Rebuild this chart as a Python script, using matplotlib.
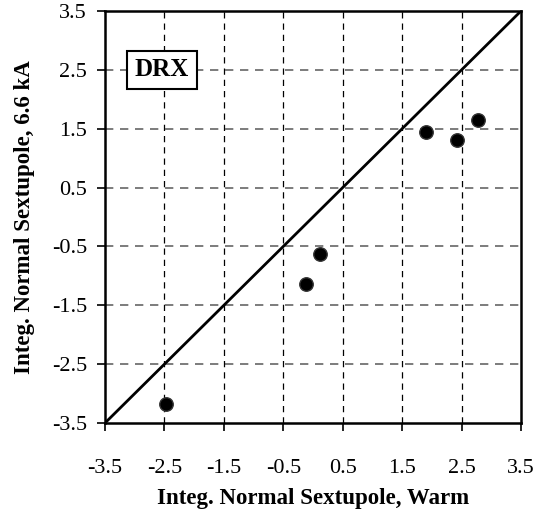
import matplotlib
matplotlib.use("Agg")
import matplotlib.pyplot as plt

warm = [-2.48, -0.12, 0.12, 1.90, 2.42, 2.77]
cold = [-3.17, -1.13, -0.63, 1.44, 1.30, 1.64]
ticks = [-3.5, -2.5, -1.5, -0.5, 0.5, 1.5, 2.5, 3.5]
tick_labels = ["-3.5", "-2.5", "-1.5", "-0.5", "0.5", "1.5", "2.5", "3.5"]
diag = [-3.5, 3.5]

plt.rcParams['font.family'] = ['Liberation Serif', 'DejaVu Serif']

fig = plt.figure(figsize=(5.38, 5.17), dpi=100)
ax = fig.add_axes([105/538, 1 - 423/517, 416/538, 412/517])

ax.set_xlim(-3.5, 3.5)
ax.set_ylim(-3.5, 3.5)
ax.set_xticks(ticks)
ax.set_yticks(ticks)
ax.set_xticklabels(tick_labels, fontsize=16)
ax.set_yticklabels(tick_labels, fontsize=16)
ax.tick_params(direction='out', length=6, width=1.2)
ax.tick_params(axis='x', pad=20)
ax.tick_params(axis='y', pad=7)

for v in ticks[1:-1]:
    ax.axvline(v, color='black', linestyle=(0, (5, 4)), linewidth=0.9, zorder=1)
    ax.axhline(v, color='#666666', linestyle=(0, (5, 4)), linewidth=1.2, zorder=1)

ax.plot(diag, diag, color='black', linewidth=2, zorder=2)
ax.plot(warm, cold, 'o', color='black', markersize=9.7, markeredgecolor='#333333', zorder=3, clip_on=False)

for s in ax.spines.values():
    s.set_linewidth(1.8)

ax.set_xlabel("Integ. Normal Sextupole, Warm", fontsize=16.5, fontweight='bold', labelpad=7)
ax.set_ylabel("Integ. Normal Sextupole, 6.6 kA", fontsize=16.5, fontweight='bold', labelpad=12)

ax.text(-2.54, 2.5, "DRX", fontsize=18, fontweight='bold', ha='center', va='center',
        bbox=dict(boxstyle='square,pad=0.3', facecolor='white', edgecolor='black', linewidth=1.5), zorder=4)

fig.savefig("out.png", dpi=100)
